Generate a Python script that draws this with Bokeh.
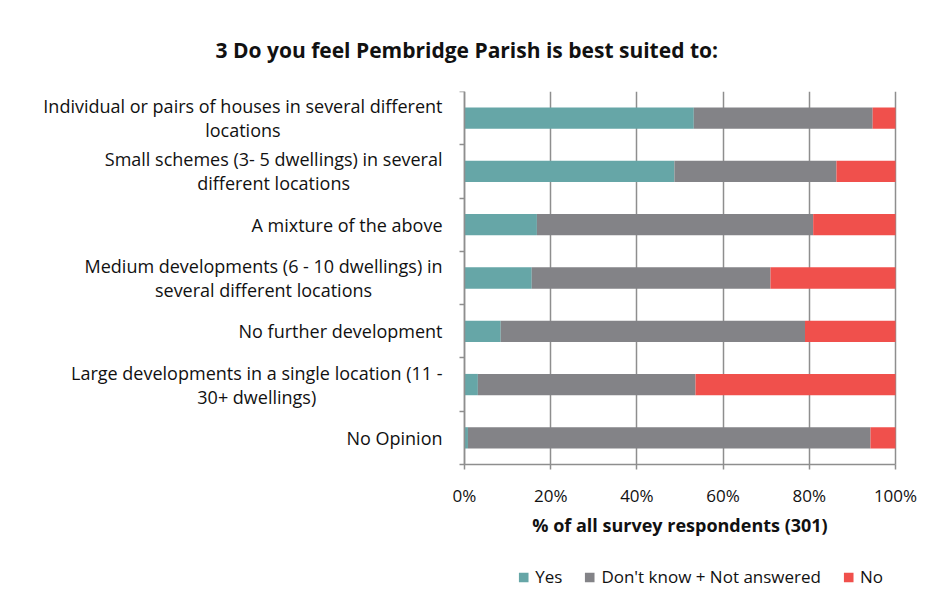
from bokeh.plotting import figure
from bokeh.models import (Range1d, FixedTicker, Legend, LegendItem, ColumnDataSource, Title, Text, Grid)
from bokeh.core.properties import value
from bokeh.embed import file_html
from bokeh.resources import INLINE

title_text = "3 Do you feel Pembridge Parish is best suited to:"
x_title = "% of all survey respondents (301)"
categories = [
    "Individual or pairs of houses in several different\nlocations",
    "Small schemes (3- 5 dwellings) in several\ndifferent locations",
    "A mixture of the above",
    "Medium developments (6 - 10 dwellings) in\nseveral different locations",
    "No further development",
    "Large developments in a single location (11 -\n30+ dwellings)",
    "No Opinion",
]
yes = [53.2, 48.7, 16.8, 15.6, 8.4, 3.1, 0.8]
dont_know = [41.5, 37.6, 64.1, 55.4, 70.6, 50.5, 93.4]
no = [5.3, 13.7, 19.1, 29.0, 21.0, 46.4, 5.8]
series = ["Yes", "Don't know + Not answered", "No"]
colors = ["#66A6A7", "#838387", "#F0504C"]
x_ticks = [0, 20, 40, 60, 80, 100]

FONT = "Open Sans"
TXT = "#111111"
GRID = "#8E8E8E"

# layout (pixels)
LABEL_PX = 454   # room for category labels, left of the 0% line
BAR_PX = 431     # width of the 0..100% area
RIGHT_PX = 35    # room right of 100% for the last tick label
ROWS_PX = 373    # height of the category area
FRAME_H = 544    # category area + room for axis title and legend

n = len(categories)
ypos = [i + 0.5 for i in range(n)]
source = ColumnDataSource(dict(y=ypos, yes=yes, dk=dont_know, no=no))
x_lo, x_hi = x_ticks[0], x_ticks[-1]
x_start = x_lo - (x_hi - x_lo) * LABEL_PX / BAR_PX
x_end = x_hi + (x_hi - x_lo) * RIGHT_PX / BAR_PX
y_end = n * FRAME_H / ROWS_PX

p = figure(frame_width=LABEL_PX + BAR_PX + RIGHT_PX, frame_height=FRAME_H,
           x_range=Range1d(x_start, x_end), y_range=Range1d(y_end, 0),
           output_backend="svg", toolbar_location=None,
           min_border_left=10, min_border_right=8, min_border_top=91, min_border_bottom=0)
p.outline_line_color = None

rs = p.hbar_stack(["yes", "dk", "no"], y="y", height=0.4, color=colors, source=source,
                  line_color=None)

# title
p.title = Title(text=title_text, align="left", offset=205, text_font=FONT,
                text_font_style="bold", text_font_size="21px", text_color=TXT, standoff=55)

# x axis, fixed at the bottom of the category area
p.xaxis.fixed_location = n
p.xaxis.bounds = (x_lo, x_hi)
p.xaxis.ticker = FixedTicker(ticks=x_ticks)
p.xaxis.major_label_overrides = {t: f"{t}%" for t in x_ticks}
p.xaxis.major_label_text_font = FONT
p.xaxis.major_label_text_font_size = "17px"
p.xaxis.major_label_text_color = TXT
p.xaxis.major_label_standoff = 14
p.xaxis.major_tick_out = 5
p.xaxis.major_tick_in = 0
p.xaxis.minor_tick_line_color = None
p.xaxis.axis_line_color = GRID
p.xaxis.major_tick_line_color = GRID
p.xaxis.axis_line_width = 1.5
p.xaxis.major_tick_line_width = 1.5

# y axis at 0%: tick marks at category boundaries
p.yaxis.fixed_location = x_lo
p.yaxis.bounds = (0, n)
p.yaxis.ticker = FixedTicker(ticks=list(range(n + 1)))
p.yaxis.major_label_overrides = {i: "" for i in range(n + 1)}
p.yaxis.major_label_text_font_size = "0px"
p.yaxis.major_tick_out = 5
p.yaxis.major_tick_in = 0
p.yaxis.minor_tick_line_color = None
p.yaxis.axis_line_color = GRID
p.yaxis.major_tick_line_color = GRID
p.yaxis.axis_line_width = 1.5
p.yaxis.major_tick_line_width = 1.5

p.xgrid.grid_line_color = GRID
p.xgrid.grid_line_width = 1.5
if "cross_bounds" in Grid.properties():
    p.xgrid.cross_bounds = (0, n)
p.ygrid.grid_line_color = None

# category labels
lab_src = ColumnDataSource(dict(x=[x_lo] * n, y=ypos, text=categories))
kw = dict(x="x", y="y", text="text", x_offset=-22, text_baseline=value("middle"),
          text_font=value(FONT), text_font_size=value("18px"), text_color=TXT,
          text_line_height=1.0)
if "anchor" in Text.properties():
    kw.update(anchor=value("center_right"), text_align=value("center"))
else:
    kw.update(text_align=value("right"))
p.add_glyph(lab_src, Text(**kw))

# x axis title, centred under the 0..100% area
xt_src = ColumnDataSource(dict(x=[(x_lo + x_hi) / 2], y=[n], text=[x_title]))
p.add_glyph(xt_src, Text(x="x", y="y", text="text", y_offset=60,
                         text_align=value("center"), text_baseline=value("middle"),
                         text_font=value(FONT), text_font_style=value("bold"),
                         text_font_size=value("18px"), text_color=TXT))

legend = Legend(items=[LegendItem(label=s, renderers=[r]) for s, r in zip(series, rs)],
                orientation="horizontal", location="bottom_right", glyph_width=12,
                glyph_height=12, label_text_font=FONT, label_text_font_size="17px",
                label_text_color=TXT, border_line_color=None, background_fill_alpha=0,
                spacing=21, label_standoff=6, margin=47, padding=0)
p.add_layout(legend)

open("out.html", "w").write(file_html(p, INLINE))
